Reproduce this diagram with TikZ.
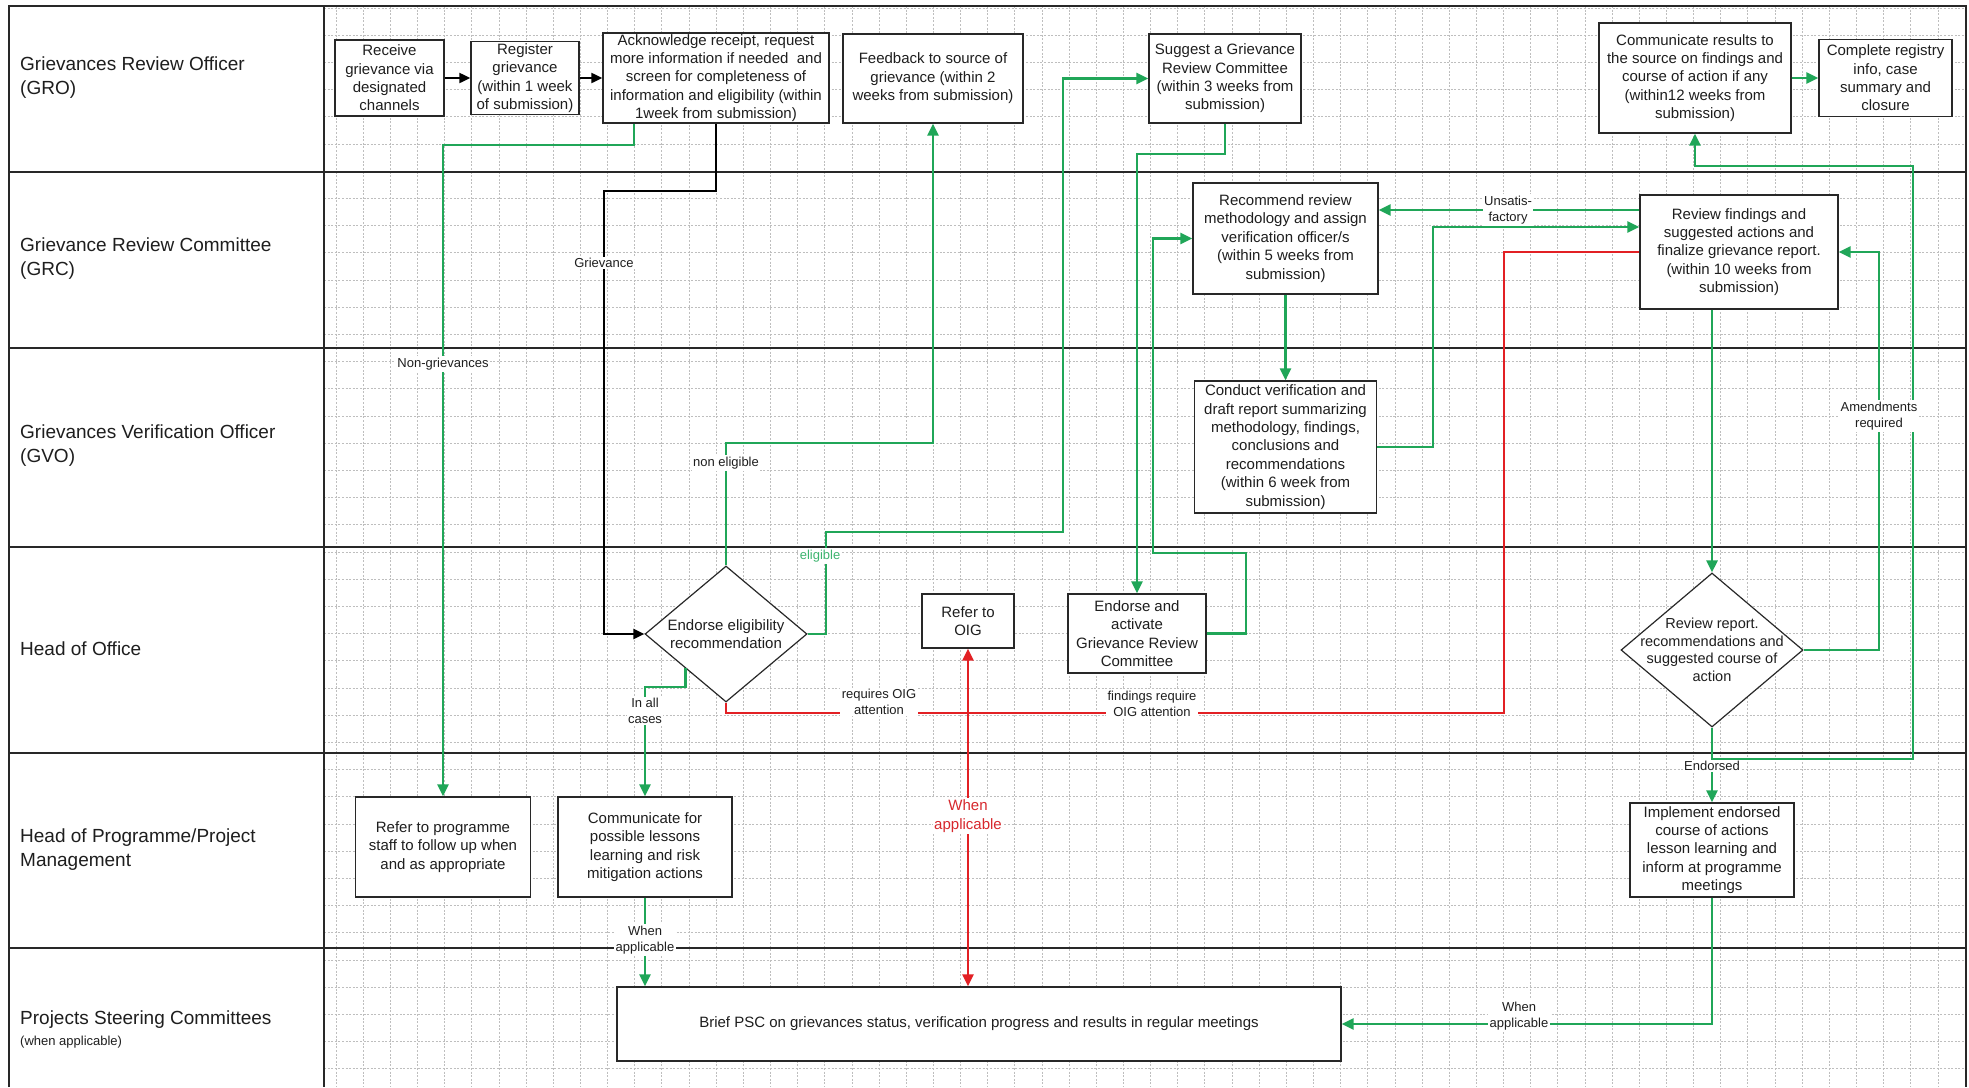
\documentclass[tikz,border=0pt]{standalone}
\usepackage{fontspec}
\setmainfont{Liberation Sans}
\usetikzlibrary{arrows.meta,shapes.geometric}
\definecolor{gline}{RGB}{32,166,88}
\definecolor{rline}{RGB}{226,32,36}
\definecolor{gtext}{RGB}{60,180,110}
\definecolor{rtext}{RGB}{215,40,45}
\definecolor{txt}{RGB}{30,30,30}
\definecolor{gridc}{RGB}{190,190,190}
\definecolor{frame}{RGB}{40,40,40}
\begin{document}
\begin{tikzpicture}[x=1pt,y=-1pt,
  box/.style={draw=frame,line width=1.4pt,fill=white,align=center,inner sep=0pt,text=txt,font=\fontsize{15}{18.4}\selectfont},
  dia/.style={diamond,draw=frame,line width=1.2pt,fill=white,inner sep=0pt},
  dtext/.style={align=center,inner sep=0pt,text=txt},
  lbl/.style={fill=white,inner sep=1.5pt,align=center,text=txt,font=\fontsize{13}{16}\selectfont},
  lanetext/.style={align=left,anchor=west,inner sep=0pt,text=txt,font=\fontsize{19}{24}\selectfont},
  gridln/.style={draw=gridc,line width=0.7pt,dash pattern=on 2pt off 1.6pt},
  laneln/.style={draw=frame,line width=2pt},
  gc/.style={draw=gline,line width=2.6pt,-{Triangle[length=12pt,width=11pt]}},
  gcn/.style={draw=gline,line width=2.6pt},
  bc/.style={draw=black,line width=2.2pt,-{Triangle[length=11pt,width=10pt]}},
  rc/.style={draw=rline,line width=2.6pt},
  rca/.style={draw=rline,line width=2.6pt,{Triangle[length=12pt,width=11pt]}-{Triangle[length=12pt,width=11pt]}}
]
\useasboundingbox (0,0) rectangle (1969,1087);
\fill[white] (0,0) rectangle (1969,1087);
% grid
\foreach \i in {0,...,59}{\draw[gridln] ({336+27.15*\i},6) -- ({336+27.15*\i},1087);}
\foreach \j in {0,...,39}{\draw[gridln] (324,{8+27.2*\j}) -- (1966,{8+27.2*\j});}
% lanes
\draw[laneln] (9,1087) -- (9,6) -- (1966,6) -- (1966,1087);
\draw[laneln] (324,6) -- (324,1087);
\foreach \yy in {172,348,547,753,948}{\draw[laneln] (9,\yy) -- (1966,\yy);}
% lane labels
\node[lanetext] (L1) at (20,78) {Grievances Review Officer\\(GRO)};
\node[lanetext] (L2) at (20,259) {Grievance Review Committee\\(GRC)};
\node[lanetext] (L3) at (20,446) {Grievances Verification Officer\\(GVO)};
\node[lanetext] (L4) at (20,649) {Head of Office};
\node[lanetext] (L5) at (20,850) {Head of Programme/Project\\Management};
\node[lanetext] (L6) at (20,1020) {Projects Steering Committees};
\node[lanetext,font=\fontsize{13}{16}\selectfont] (L6b) at (20,1042) {(when applicable)};
% boxes
\node[box,minimum width=109,minimum height=76] (rec) at (389.5,78) {Receive\\grievance via\\designated\\channels};
\node[box,minimum width=108,minimum height=73] (reg) at (525,78) {Register\\grievance\\(within 1 week\\of submission)};
\node[box,minimum width=226,minimum height=90] (ack) at (716,78) {Acknowledge receipt, request\\more information if needed\ \ and\\screen for completeness of\\information and eligibility (within\\1week from submission)};
\node[box,minimum width=180,minimum height=89] (fb) at (933,78.5) {Feedback to source of\\grievance (within 2\\weeks from submission)};
\node[box,minimum width=152,minimum height=89] (sug) at (1225,78.5) {Suggest a Grievance\\Review Committee\\(within 3 weeks from\\submission)};
\node[box,minimum width=192,minimum height=110] (com) at (1695,78) {Communicate results to\\the source on findings and\\course of action if any\\(within12 weeks from\\submission)};
\node[box,minimum width=133,minimum height=77] (cpl) at (1885.5,78) {Complete registry\\info, case\\summary and\\closure};
\node[box,minimum width=185,minimum height=111] (rcm) at (1285.5,238.5) {Recommend review\\methodology and assign\\verification officer/s\\(within 5 weeks from\\submission)};
\node[box,minimum width=198,minimum height=114] (rvf) at (1739,252) {Review findings and\\suggested actions and\\finalize grievance report.\\(within 10 weeks from\\submission)};
\node[box,minimum width=182,minimum height=132] (cdv) at (1285.5,447) {Conduct verification and\\draft report summarizing\\methodology, findings,\\conclusions and\\recommendations\\(within 6 week from\\submission)};
\node[dia,minimum width=162,minimum height=136] (d1) at (726,634) {};
\node[dtext,font=\fontsize{15}{18.4}\selectfont] (d1t) at (d1) {Endorse eligibility\\recommendation};
\node[box,minimum width=92,minimum height=54] (oig) at (968,621) {Refer to\\OIG};
\node[box,minimum width=138,minimum height=79] (end) at (1137,633.5) {Endorse and\\activate\\Grievance Review\\Committee};
\node[dia,minimum width=182,minimum height=154] (d2) at (1712,650) {};
\node[dtext,font=\fontsize{14.5}{17.5}\selectfont] (d2t) at (d2) {Review report.\\recommendations and\\suggested course of\\action};
\node[box,minimum width=175,minimum height=100] (rps) at (443,847) {Refer to programme\\staff to follow up when\\and as appropriate};
\node[box,minimum width=174,minimum height=100] (cfl) at (645,847) {Communicate for\\possible lessons\\learning and risk\\mitigation actions};
\node[box,minimum width=164,minimum height=94] (imp) at (1712,850) {Implement endorsed\\course of actions\\lesson learning and\\inform at programme\\meetings};
\node[box,minimum width=724,minimum height=74] (psc) at (979,1024) {Brief PSC on grievances status, verification progress and results in regular meetings};
% connectors
\draw[bc] (rec.east) -- (rec.east -| reg.west);
\draw[bc] (reg.east) -- (reg.east -| ack.west);
\draw[bc] (ack.south) |- (604,191) -- (604,634) -- (d1.west);
\draw[gc] ([xshift=-82]ack.south) |- (443,145) -- (rps.north);
\draw[gc] (d1.north) |- (933,443) -- (fb.south);
\draw[gc] (d1.east) -| (826,532) -| (1063,78.5) -- (sug.west);
\draw[gc] (sug.south) |- (1137,154) -- (end.north);
\draw[gc] (end.east) -| (1246,553) -| (1153,238.5) -- (rcm.west);
\draw[gc] (rcm.south) -- (cdv.north);
\draw[gc] (cdv.east) -| (1433,227) -- ([yshift=25]rvf.west);
\draw[gc] ([yshift=42]rvf.west) -- ([yshift=28.5]rcm.east);
\draw[gc] (d2.north |- rvf.south) -- (d2.north);
\draw[rc] (d1.south) |- (1504,713) |- (rvf.west);
\draw[rca] (oig.south) -- (oig.south |- psc.north);
\draw[gc] (d2.east) -| (1879,252) -- (rvf.east);
\draw[gc] (d2.south) -- (imp.north);
\node[lbl] (lend) at (1712,766) {Endorsed};
\draw[gc] (d2.south) |- (1913,759) |- (1695,166) -- (com.south);
\draw[gc] (com.east) -- (com.east -| cpl.west);
\draw[gc] (d1.south west) |- (645,687) -- (cfl.north);
\draw[gc] (cfl.south) -- (cfl.south |- psc.north);
\draw[gc] (imp.south) |- (psc.east);
% labels
\node[lbl] (lgr) at (604,263) {Grievance};
\node[lbl] (lng) at (443,364) {Non-grievances};
\node[lbl] (lne) at (726,463) {non eligible};
\node[lbl,text=gtext] (lel) at (820,556) {eligible};
\node[lbl] (lac) at (645,711) {In all\\cases};
\node[lbl] (lro) at (879,702) {requires OIG\\attention};
\node[lbl] (lfr) at (1152,704) {findings require\\OIG attention};
\node[lbl,text=rtext,font=\fontsize{15}{19}\selectfont] (lwr) at (968,816) {When\\applicable};
\node[lbl] (lwa) at (645,940) {When\\applicable};
\node[lbl] (lun) at (1508,210) {Unsatis-\\factory};
\node[lbl] (lam) at (1879,416) {Amendments\\required};
\node[lbl] (lwb) at (1519,1016) {When\\applicable};
\end{tikzpicture}
\end{document}
